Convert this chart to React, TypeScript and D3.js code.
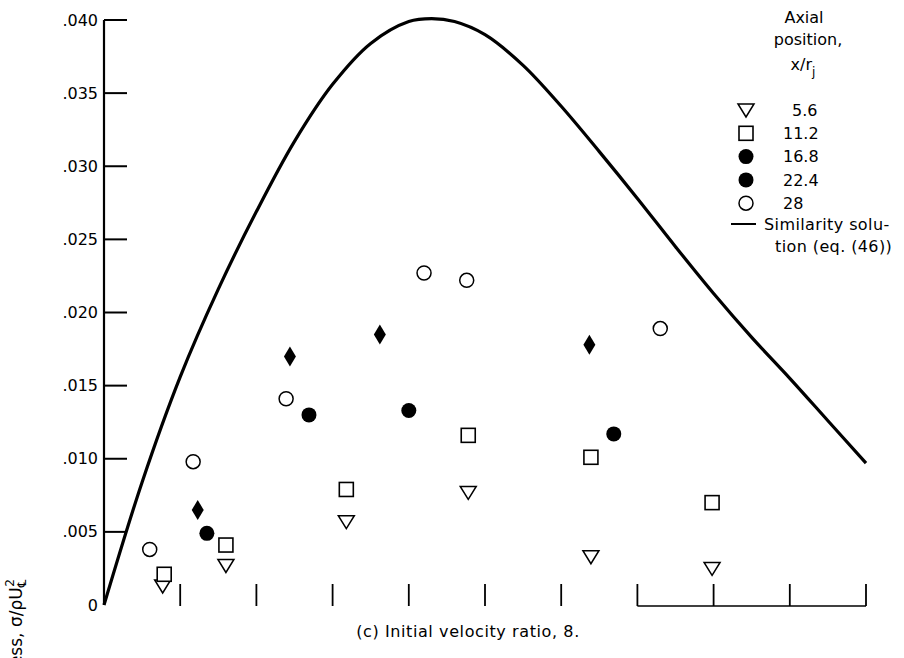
import React from "react";
import * as d3 from "d3";

// x positions are in tick-interval units (axis carries no numbers)
const curveX = [0, 0.5, 1.0, 1.5, 2.0, 2.5, 3.0, 3.5, 4.0, 4.3, 4.6, 5.0, 5.5, 6.0, 6.5, 7.0, 7.5, 8.0, 8.5, 9.0, 9.5, 10];
const curveY = [0, 0.0084, 0.0156, 0.0216, 0.0269, 0.0317, 0.0356, 0.0384, 0.0399, 0.0401, 0.0399, 0.0390, 0.0369, 0.0341, 0.0310, 0.0278, 0.0245, 0.0213, 0.0183, 0.0155, 0.0126, 0.0097];

const triX = [0.77, 1.6, 3.18, 4.78, 6.39, 7.98];
const triY = [0.0013, 0.0027, 0.0057, 0.0077, 0.0033, 0.0025];
const sqX = [0.79, 1.6, 3.18, 4.78, 6.39, 7.98];
const sqY = [0.0021, 0.0041, 0.0079, 0.0116, 0.0101, 0.007];
const dotX = [1.35, 2.69, 4.0, 6.69];
const dotY = [0.0049, 0.013, 0.0133, 0.0117];
const diaX = [1.23, 2.44, 3.62, 6.37];
const diaY = [0.0065, 0.017, 0.0185, 0.0178];
const ringX = [0.6, 1.17, 2.39, 4.2, 4.76, 7.3];
const ringY = [0.0038, 0.0098, 0.0141, 0.0227, 0.0222, 0.0189];

const legendLabels = ["5.6", "11.2", "16.8", "22.4", "28"];
const yTicks = [0, 0.005, 0.01, 0.015, 0.02, 0.025, 0.03, 0.035, 0.04];
const xTicks = [1, 2, 3, 4, 5, 6, 7, 8, 9, 10];

const font = "'DejaVu Sans', sans-serif";

const Marker = ({kind, x, y}: {kind: string, x: number, y: number}) => {
    if (kind === "tri") {
        return <path d={`M${x - 8},${y - 6}L${x + 8},${y - 6}L${x},${y + 7}Z`} fill="white" stroke="black" strokeWidth={1.5}/>;
    }
    if (kind === "sq") {
        return <rect x={x - 7} y={y - 7} width={14} height={14} fill="white" stroke="black" strokeWidth={1.6}/>;
    }
    if (kind === "dot") {
        return <circle cx={x} cy={y} r={7.5} fill="black"/>;
    }
    if (kind === "dia") {
        return <path d={`M${x},${y - 10}L${x + 6},${y}L${x},${y + 10}L${x - 6},${y}Z`} fill="black"/>;
    }
    return <circle cx={x} cy={y} r={7} fill="white" stroke="black" strokeWidth={1.5}/>;
};

const App = () => {
    const width = 904;
    const height = 658;
    const x = d3.scaleLinear().domain([0, 10]).range([104, 866]);
    const y = d3.scaleLinear().domain([0, 0.04]).range([605, 20]);

    const line = d3.line<number>()
        .x(d => x(curveX[d]))
        .y(d => y(curveY[d]))
        .curve(d3.curveCatmullRom.alpha(0.5));

    const fmt = (v: number) => v === 0 ? "0" : d3.format(".3f")(v).replace(/^0/, "");

    const series = [
        {kind: "tri", xs: triX, ys: triY},
        {kind: "sq", xs: sqX, ys: sqY},
        {kind: "dot", xs: dotX, ys: dotY},
        {kind: "dia", xs: diaX, ys: diaY},
        {kind: "ring", xs: ringX, ys: ringY},
    ];
    // legend shows filled circle for 22.4 as in the original figure
    const legendKinds = ["tri", "sq", "dot", "dot", "ring"];

    return (
        <svg width={width} height={height} style={{position: "absolute", left: 0, top: 0, background: "white"}}
             fontFamily={font}>
            {/* y axis */}
            <line x1={x(0)} x2={x(0)} y1={y(0.04)} y2={y(0)} stroke="black" strokeWidth={2.2}/>
            {yTicks.map(t => (
                <g key={t}>
                    {t > 0 && <line x1={x(0)} x2={x(0) + 23} y1={y(t)} y2={y(t)} stroke="black" strokeWidth={2}/>}
                    <text x={x(0) - 6} y={y(t)} dy="0.35em" textAnchor="end" fontSize={16}>{fmt(t)}</text>
                </g>
            ))}

            {/* x ticks */}
            {xTicks.map(t => (
                <line key={t} x1={x(t)} x2={x(t)} y1={y(0) - 21} y2={y(0) + 1} stroke="black" strokeWidth={1.8}/>
            ))}
            <line x1={x(7)} x2={x(10)} y1={y(0) + 1} y2={y(0) + 1} stroke="black" strokeWidth={1.5}/>

            {/* similarity solution */}
            <path d={line(d3.range(curveX.length)) || ""} fill="none" stroke="black" strokeWidth={3.2}/>

            {series.map(s => s.xs.map((v, i) => (
                <Marker key={s.kind + i} kind={s.kind} x={x(v)} y={y(s.ys[i])}/>
            )))}

            {/* legend */}
            <g fontSize={16}>
                <text x={804} y={23} textAnchor="middle">Axial</text>
                <text x={808} y={45} textAnchor="middle">position,</text>
                <text x={803} y={70} textAnchor="middle">x/r<tspan dy={6} fontSize={12}>j</tspan></text>
                {legendLabels.map((l, i) => (
                    <g key={l}>
                        <Marker kind={legendKinds[i]} x={746} y={110 + i * 23.3}/>
                        <text x={i === 0 ? 792 : 783} y={110 + i * 23.3} dy="0.35em">{l}</text>
                    </g>
                ))}
                <line x1={731} x2={756} y1={224} y2={224} stroke="black" strokeWidth={2}/>
                <text x={764} y={224} dy="0.35em" letterSpacing={0.4}>Similarity solu-</text>
                <text x={775} y={246} dy="0.35em" letterSpacing={0.4}>tion (eq. (46))</text>
            </g>

            {/* axis titles */}
            <text x={468} y={637} textAnchor="middle" fontSize={16} letterSpacing={0.6}>(c) Initial velocity ratio, 8.</text>
            <text transform="translate(22,579) rotate(-90)" textAnchor="end" fontSize={17}>
                Shear stress, σ/ρU<tspan fontSize={12} dy={4}>℄</tspan><tspan fontSize={12} dy={-12} dx={-7}>2</tspan>
            </text>
        </svg>
    );
};

export default App;
